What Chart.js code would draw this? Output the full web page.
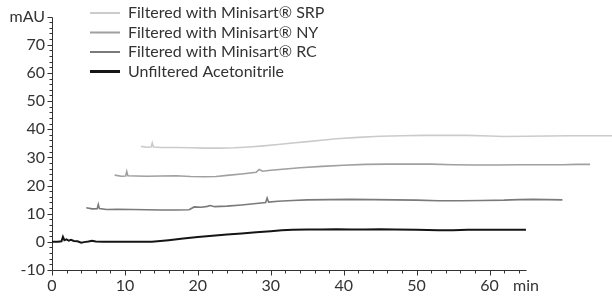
<!DOCTYPE html>
<html>
<head>
<meta charset="utf-8">
<script src="https://cdn.jsdelivr.net/npm/chart.js@4/dist/chart.umd.min.js"></script>
<style>
html, body { margin: 0; padding: 0; background: #fff; }
</style>
</head>
<body>
<canvas id="chart-chromatogram" width="612" height="297"></canvas>
<script>
// series labels (legend order)
const seriesLabels = [
    'Filtered with Minisart® SRP',
    'Filtered with Minisart® NY',
    'Filtered with Minisart® RC',
    'Unfiltered Acetonitrile',
];

// retention time (min) / absorbance (mAU)
const srpTime = [12.2, 13, 13.6, 13.75, 13.9, 15, 17, 19, 21, 23, 25, 27, 29, 31, 33, 35, 37, 39, 42, 45, 48, 51, 54, 57, 60, 62, 65, 68, 71, 74, 77];
const srpAbs = [33.9, 33.6, 33.7, 35.1, 33.7, 33.5, 33.5, 33.4, 33.3, 33.3, 33.4, 33.7, 34.1, 34.6, 35.1, 35.6, 36.1, 36.6, 37.1, 37.5, 37.7, 37.8, 37.8, 37.8, 37.6, 37.4, 37.5, 37.6, 37.7, 37.7, 37.7];

const nyTime = [8.6, 9.5, 10.1, 10.25, 10.4, 11.5, 13, 15, 17, 19, 21, 22.5, 24, 26, 28, 28.4, 28.9, 30, 32, 34, 37, 40, 43, 46, 49, 52, 55, 58, 61, 64, 67, 70, 72, 73.8];
const nyAbs = [23.7, 23.3, 23.4, 25.0, 23.5, 23.4, 23.3, 23.4, 23.5, 23.2, 23.1, 23.2, 23.6, 24.1, 24.7, 25.7, 25.1, 25.4, 25.9, 26.3, 26.8, 27.2, 27.5, 27.6, 27.6, 27.6, 27.4, 27.3, 27.3, 27.4, 27.4, 27.4, 27.5, 27.5];

const rcTime = [4.7, 5.5, 6.2, 6.35, 6.5, 7.5, 9, 11, 13, 15, 17, 18.8, 19.5, 20.5, 21.3, 21.7, 22.3, 24, 26, 28, 29.3, 29.5, 29.7, 31, 33, 35, 38, 41, 44, 47, 50, 53, 56, 59, 62, 64, 66, 68, 70];
const rcAbs = [12.1, 11.7, 11.8, 13.3, 11.8, 11.5, 11.6, 11.5, 11.4, 11.3, 11.3, 11.4, 12.4, 12.3, 12.6, 12.9, 12.5, 12.7, 13.1, 13.6, 14.0, 15.6, 14.1, 14.4, 14.7, 14.9, 15.0, 15.1, 15.0, 14.9, 14.8, 14.6, 14.6, 14.7, 14.8, 15.0, 15.1, 15.0, 14.9];

const acnTime = [0, 0.8, 1.3, 1.5, 1.7, 2.0, 2.3, 2.6, 3.0, 3.5, 4.0, 4.4, 5.0, 5.5, 6.0, 7, 8, 10, 12, 13.7, 16, 18, 20, 22, 24, 26, 28, 30, 31.5, 33, 35, 37, 39, 41, 43, 45, 47, 50, 53, 55, 57, 60, 62, 65];
const acnAbs = [0, 0, 0.2, 1.8, 0.6, 0.9, 0.4, 0.7, 0.3, 0.2, -0.3, -0.1, 0.1, 0.4, 0.1, 0, 0, 0, 0, 0, 0.6, 1.2, 1.7, 2.2, 2.6, 3.0, 3.4, 3.8, 4.1, 4.3, 4.4, 4.4, 4.5, 4.4, 4.4, 4.5, 4.4, 4.3, 4.1, 4.1, 4.3, 4.3, 4.3, 4.3];

// axis ticks
const xTickValues = [0, 10, 20, 30, 40, 50, 60, 65];
const xTickLabels = ['0', '10', '20', '30', '40', '50', '60', 'min'];
const yTickValues = [-10, 0, 10, 20, 30, 40, 50, 60, 70, 80];
const yTickLabels = ['-10', '0', '10', '20', '30', '40', '50', '60', '70', 'mAU'];

const xAxisEnd = 65;
const yMin = -10;
const yMax = 80;

const toPoints = (t, a) => t.map((v, i) => ({x: v, y: a[i]}));

Chart.defaults.font.family = 'Lato';
Chart.defaults.font.size = 16;
Chart.defaults.color = '#333';

// axis lines with major/minor ticks, drawn through the scales
const axisLines = {
    id: 'axisLines',
    beforeDatasetsDraw(chart) {
        const {ctx, scales: {x, y}} = chart;
        const x0 = Math.round(x.getPixelForValue(0)) + 0.5;
        const yb = Math.round(y.getPixelForValue(yMin)) + 0.5;
        ctx.save();
        ctx.strokeStyle = '#333';
        ctx.lineWidth = 1;
        ctx.beginPath();
        ctx.moveTo(x0, Math.round(y.getPixelForValue(yMax)) + 0.5);
        ctx.lineTo(x0, yb);
        for (let v = yMin; v <= yMax; v += 2) {
            const py = Math.round(y.getPixelForValue(v)) + 0.5;
            const len = v % 10 === 0 ? 5 : 3;
            ctx.moveTo(x0 - len, py);
            ctx.lineTo(x0, py);
        }
        ctx.moveTo(x0, yb);
        ctx.lineTo(Math.round(x.getPixelForValue(xAxisEnd)) + 0.5, yb);
        for (let v = 0; v <= xAxisEnd; v += 2) {
            const px = Math.round(x.getPixelForValue(v)) + 0.5;
            const len = v % 10 === 0 ? 5 : 3;
            ctx.moveTo(px, yb);
            ctx.lineTo(px, yb + len);
        }
        ctx.stroke();
        ctx.restore();
    }
};

// put the legend block at the top left, next to the y axis
const legendPlace = {
    id: 'legendPlace',
    afterLayout(chart) {
        const lg = chart.legend;
        const pad = lg.options.labels.padding;
        const fs = lg.options.labels.font.size || 16;
        lg.left = 90 - pad;
        lg.top = 13 - fs / 2 - pad;
        lg.right = lg.left + lg.width;
        lg.bottom = lg.top + lg.height + 20;
    }
};

let chartChromatogram = new Chart(document.getElementById('chart-chromatogram'), {
    type: 'line',
    data: {
        datasets: [{
            label: seriesLabels[0],
            data: toPoints(srpTime, srpAbs),
            borderColor: '#cbcbcb',
            borderWidth: 1.6
        }, {
            label: seriesLabels[1],
            data: toPoints(nyTime, nyAbs),
            borderColor: '#a0a0a0',
            borderWidth: 1.6
        }, {
            label: seriesLabels[2],
            data: toPoints(rcTime, rcAbs),
            borderColor: '#7a7a7a',
            borderWidth: 1.6
        }, {
            label: seriesLabels[3],
            data: toPoints(acnTime, acnAbs),
            borderColor: '#151515',
            borderWidth: 2
        }]
    },
    options: {
        responsive: false,
        animation: false,
        elements: {point: {radius: 0}, line: {tension: 0}},
        layout: {padding: {top: 14.5, right: 0, left: 0, bottom: 0}},
        plugins: {
            tooltip: {enabled: false},
            legend: {
                position: 'chartArea',
                align: 'start',
                labels: {
                    usePointStyle: true,
                    pointStyle: 'line',
                    pointStyleWidth: 30,
                    padding: 3.5,
                    color: '#333',
                    font: {size: 16},
                    generateLabels: chart => {
                        const items = Chart.defaults.plugins.legend.labels.generateLabels(chart);
                        items.forEach(it => { it.lineWidth = it.datasetIndex === 3 ? 3 : 2; });
                        return items;
                    }
                }
            }
        },
        scales: {
            x: {
                type: 'linear',
                min: 0,
                max: 76.8,
                grid: {display: false, drawTicks: false},
                border: {display: false},
                ticks: {
                    autoSkip: false,
                    maxRotation: 0,
                    padding: 6,
                    callback: (v, i) => xTickLabels[i]
                },
                afterBuildTicks: s => { s.ticks = xTickValues.map(v => ({value: v})); },
                afterFit: s => { s.height = 27; }
            },
            y: {
                type: 'linear',
                min: yMin,
                max: yMax,
                grid: {display: false, drawTicks: false},
                border: {display: false},
                ticks: {
                    autoSkip: false,
                    padding: 7,
                    callback: (v, i) => yTickLabels[i]
                },
                afterBuildTicks: s => { s.ticks = yTickValues.map(v => ({value: v})); },
                afterFit: s => { s.width = 52; }
            }
        }
    },
    plugins: [axisLines, legendPlace]
});
</script>
</body>
</html>
